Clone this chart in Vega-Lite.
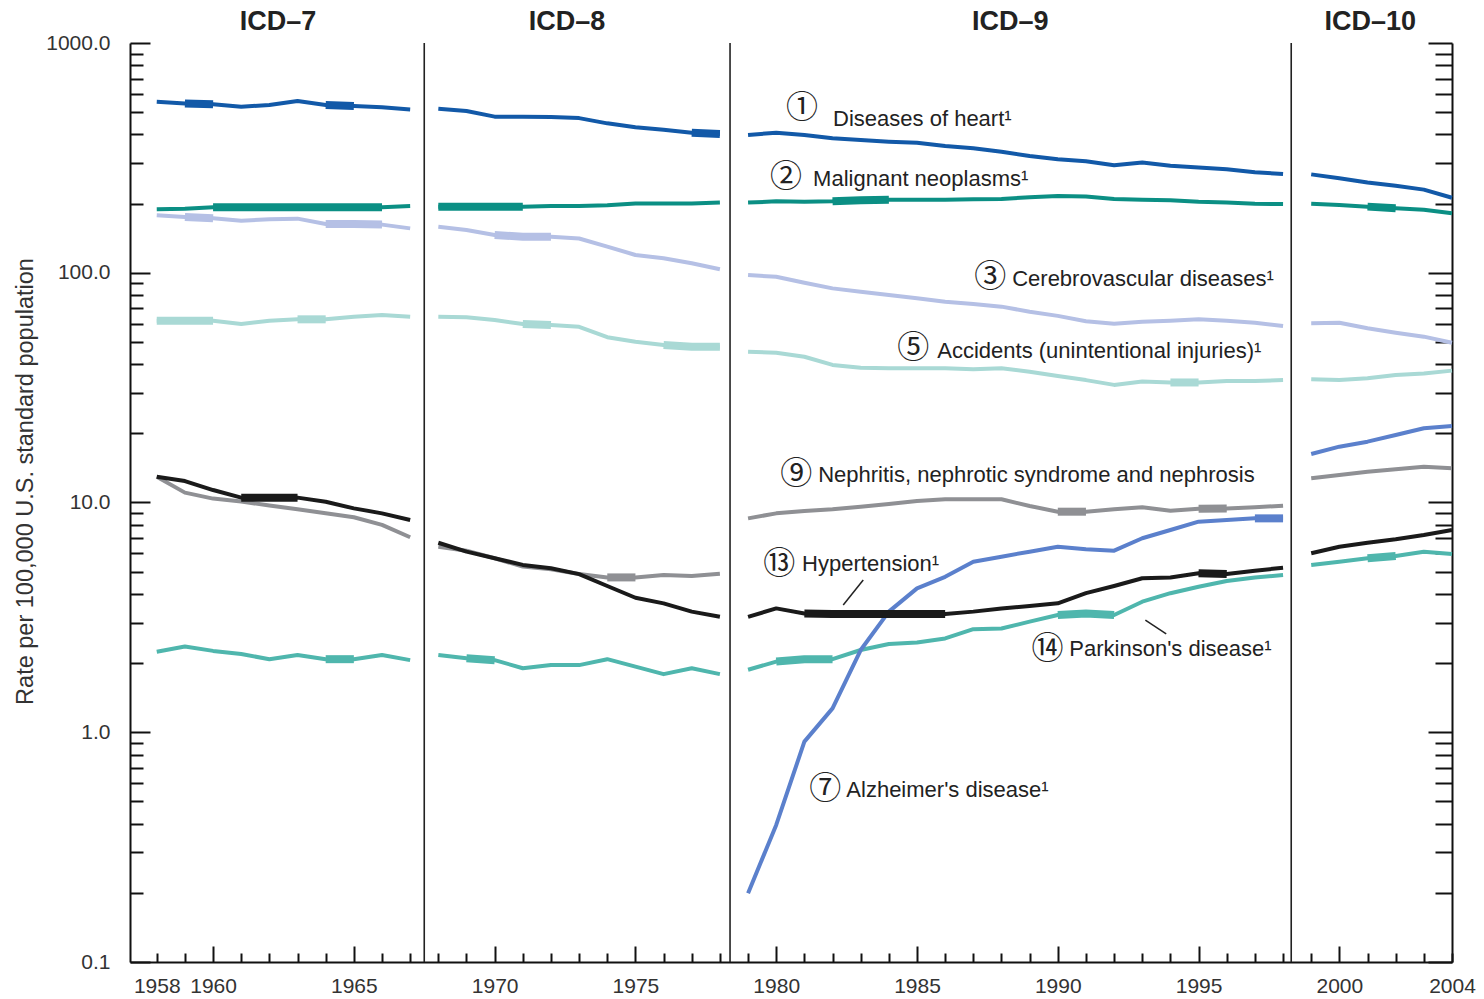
{
  "$schema": "https://vega.github.io/schema/vega-lite/v6.json",
  "autosize": {"type": "none"},
  "padding": {"left": 130, "top": 43, "right": 32, "bottom": 37},
  "width": 1322,
  "height": 919,
  "background": "white",
  "config": {"view": {"stroke": null}, "font": "Liberation Sans", "axis": {"grid": false}},
  "datasets": {
    "rates": [
      {"year": 1958, "rev": "ICD-7", "heart": 555, "cancer": 189, "stroke": 178, "accidents": 61.8, "nephritis": 12.95, "hypertension": 12.95, "parkinsons": 2.24},
      {"year": 1959, "rev": "ICD-7", "heart": 546, "cancer": 190, "stroke": 175, "accidents": 61.8, "nephritis": 11.04, "hypertension": 12.4, "parkinsons": 2.36},
      {"year": 1960, "rev": "ICD-7", "heart": 541, "cancer": 193, "stroke": 172.6, "accidents": 61.8, "nephritis": 10.4, "hypertension": 11.33, "parkinsons": 2.26},
      {"year": 1961, "rev": "ICD-7", "heart": 528, "cancer": 193, "stroke": 168.4, "accidents": 59.8, "nephritis": 10.1, "hypertension": 10.5, "parkinsons": 2.19},
      {"year": 1962, "rev": "ICD-7", "heart": 537, "cancer": 193, "stroke": 170.8, "accidents": 61.8, "nephritis": 9.7, "hypertension": 10.5, "parkinsons": 2.08},
      {"year": 1963, "rev": "ICD-7", "heart": 559, "cancer": 193, "stroke": 172, "accidents": 62.7, "nephritis": 9.35, "hypertension": 10.5, "parkinsons": 2.17},
      {"year": 1964, "rev": "ICD-7", "heart": 537, "cancer": 193, "stroke": 163, "accidents": 62.7, "nephritis": 8.98, "hypertension": 10.08, "parkinsons": 2.08},
      {"year": 1965, "rev": "ICD-7", "heart": 532, "cancer": 193, "stroke": 163, "accidents": 64.4, "nephritis": 8.63, "hypertension": 9.43, "parkinsons": 2.08},
      {"year": 1966, "rev": "ICD-7", "heart": 525, "cancer": 193, "stroke": 162, "accidents": 65.5, "nephritis": 7.99, "hypertension": 8.97, "parkinsons": 2.17},
      {"year": 1967, "rev": "ICD-7", "heart": 514, "cancer": 195, "stroke": 156, "accidents": 64.4, "nephritis": 7.06, "hypertension": 8.39, "parkinsons": 2.06},
      {"year": 1968, "rev": "ICD-8", "heart": 518, "cancer": 194, "stroke": 158.7, "accidents": 64.4, "nephritis": 6.42, "hypertension": 6.68, "parkinsons": 2.17},
      {"year": 1969, "rev": "ICD-8", "heart": 506, "cancer": 194, "stroke": 153.5, "accidents": 64, "nephritis": 6.17, "hypertension": 6.11, "parkinsons": 2.1},
      {"year": 1970, "rev": "ICD-8", "heart": 478, "cancer": 194, "stroke": 146, "accidents": 62.3, "nephritis": 5.72, "hypertension": 5.72, "parkinsons": 2.06},
      {"year": 1971, "rev": "ICD-8", "heart": 478, "cancer": 194, "stroke": 143.5, "accidents": 59.8, "nephritis": 5.26, "hypertension": 5.35, "parkinsons": 1.9},
      {"year": 1972, "rev": "ICD-8", "heart": 476, "cancer": 195, "stroke": 143.5, "accidents": 59.2, "nephritis": 5.12, "hypertension": 5.17, "parkinsons": 1.96},
      {"year": 1973, "rev": "ICD-8", "heart": 471, "cancer": 195, "stroke": 141, "accidents": 58.2, "nephritis": 4.88, "hypertension": 4.88, "parkinsons": 1.96},
      {"year": 1974, "rev": "ICD-8", "heart": 447, "cancer": 196.5, "stroke": 130, "accidents": 52.4, "nephritis": 4.72, "hypertension": 4.33, "parkinsons": 2.08},
      {"year": 1975, "rev": "ICD-8", "heart": 430, "cancer": 200, "stroke": 119.5, "accidents": 50.1, "nephritis": 4.72, "hypertension": 3.85, "parkinsons": 1.93},
      {"year": 1976, "rev": "ICD-8", "heart": 419, "cancer": 200, "stroke": 115.6, "accidents": 48.5, "nephritis": 4.83, "hypertension": 3.64, "parkinsons": 1.79},
      {"year": 1977, "rev": "ICD-8", "heart": 407, "cancer": 200, "stroke": 110, "accidents": 47.6, "nephritis": 4.79, "hypertension": 3.35, "parkinsons": 1.9},
      {"year": 1978, "rev": "ICD-8", "heart": 402, "cancer": 202, "stroke": 103.5, "accidents": 47.6, "nephritis": 4.9, "hypertension": 3.18, "parkinsons": 1.79},
      {"year": 1979, "rev": "ICD-9", "heart": 398, "cancer": 202, "stroke": 97.8, "accidents": 45.3, "nephritis": 8.53, "hypertension": 3.18, "parkinsons": 1.87, "alzheimers": 0.199},
      {"year": 1980, "rev": "ICD-9", "heart": 407, "cancer": 204.5, "stroke": 96, "accidents": 44.9, "nephritis": 8.97, "hypertension": 3.46, "parkinsons": 2.03, "alzheimers": 0.395},
      {"year": 1981, "rev": "ICD-9", "heart": 398, "cancer": 203.5, "stroke": 90.5, "accidents": 43.1, "nephritis": 9.18, "hypertension": 3.29, "parkinsons": 2.08, "alzheimers": 0.91},
      {"year": 1982, "rev": "ICD-9", "heart": 385, "cancer": 204.5, "stroke": 85.5, "accidents": 39.7, "nephritis": 9.34, "hypertension": 3.27, "parkinsons": 2.08, "alzheimers": 1.27},
      {"year": 1983, "rev": "ICD-9", "heart": 378, "cancer": 207, "stroke": 82.7, "accidents": 38.6, "nephritis": 9.59, "hypertension": 3.27, "parkinsons": 2.28, "alzheimers": 2.28},
      {"year": 1984, "rev": "ICD-9", "heart": 372, "cancer": 208, "stroke": 80, "accidents": 38.4, "nephritis": 9.85, "hypertension": 3.27, "parkinsons": 2.42, "alzheimers": 3.35},
      {"year": 1985, "rev": "ICD-9", "heart": 368, "cancer": 208, "stroke": 77.4, "accidents": 38.4, "nephritis": 10.15, "hypertension": 3.27, "parkinsons": 2.46, "alzheimers": 4.23},
      {"year": 1986, "rev": "ICD-9", "heart": 356, "cancer": 208, "stroke": 74.8, "accidents": 38.4, "nephritis": 10.33, "hypertension": 3.27, "parkinsons": 2.56, "alzheimers": 4.75},
      {"year": 1987, "rev": "ICD-9", "heart": 348, "cancer": 209, "stroke": 73.1, "accidents": 38, "nephritis": 10.33, "hypertension": 3.35, "parkinsons": 2.81, "alzheimers": 5.52},
      {"year": 1988, "rev": "ICD-9", "heart": 336, "cancer": 209.5, "stroke": 71.2, "accidents": 38.4, "nephritis": 10.33, "hypertension": 3.46, "parkinsons": 2.83, "alzheimers": 5.81},
      {"year": 1989, "rev": "ICD-9", "heart": 322, "cancer": 213, "stroke": 67.7, "accidents": 37.1, "nephritis": 9.66, "hypertension": 3.54, "parkinsons": 3.03, "alzheimers": 6.11},
      {"year": 1990, "rev": "ICD-9", "heart": 312, "cancer": 216, "stroke": 64.9, "accidents": 35.5, "nephritis": 9.12, "hypertension": 3.64, "parkinsons": 3.24, "alzheimers": 6.42},
      {"year": 1991, "rev": "ICD-9", "heart": 306, "cancer": 214.5, "stroke": 61.5, "accidents": 34.1, "nephritis": 9.12, "hypertension": 4.03, "parkinsons": 3.29, "alzheimers": 6.26},
      {"year": 1992, "rev": "ICD-9", "heart": 294, "cancer": 209.5, "stroke": 60, "accidents": 32.5, "nephritis": 9.34, "hypertension": 4.33, "parkinsons": 3.24, "alzheimers": 6.17},
      {"year": 1993, "rev": "ICD-9", "heart": 302, "cancer": 208, "stroke": 61.2, "accidents": 33.6, "nephritis": 9.53, "hypertension": 4.68, "parkinsons": 3.7, "alzheimers": 6.99},
      {"year": 1994, "rev": "ICD-9", "heart": 292, "cancer": 207, "stroke": 61.8, "accidents": 33.3, "nephritis": 9.21, "hypertension": 4.72, "parkinsons": 4.03, "alzheimers": 7.59},
      {"year": 1995, "rev": "ICD-9", "heart": 287, "cancer": 203.5, "stroke": 62.7, "accidents": 33.3, "nephritis": 9.4, "hypertension": 4.92, "parkinsons": 4.3, "alzheimers": 8.25},
      {"year": 1996, "rev": "ICD-9", "heart": 282, "cancer": 202, "stroke": 61.8, "accidents": 33.8, "nephritis": 9.42, "hypertension": 4.88, "parkinsons": 4.55, "alzheimers": 8.39},
      {"year": 1997, "rev": "ICD-9", "heart": 274, "cancer": 199.5, "stroke": 60.6, "accidents": 33.8, "nephritis": 9.53, "hypertension": 5.05, "parkinsons": 4.72, "alzheimers": 8.53},
      {"year": 1998, "rev": "ICD-9", "heart": 269, "cancer": 199, "stroke": 58.6, "accidents": 34.1, "nephritis": 9.69, "hypertension": 5.2, "parkinsons": 4.83, "alzheimers": 8.53},
      {"year": 1999, "rev": "ICD-10", "heart": 268, "cancer": 199.5, "stroke": 60.3, "accidents": 34.4, "nephritis": 12.74, "hypertension": 6.01, "parkinsons": 5.35, "alzheimers": 16.26},
      {"year": 2000, "rev": "ICD-10", "heart": 258, "cancer": 197, "stroke": 60.6, "accidents": 34.1, "nephritis": 13.17, "hypertension": 6.42, "parkinsons": 5.52, "alzheimers": 17.5},
      {"year": 2001, "rev": "ICD-10", "heart": 247, "cancer": 194, "stroke": 57.3, "accidents": 34.7, "nephritis": 13.6, "hypertension": 6.68, "parkinsons": 5.72, "alzheimers": 18.4},
      {"year": 2002, "rev": "ICD-10", "heart": 239, "cancer": 191, "stroke": 54.8, "accidents": 35.9, "nephritis": 13.95, "hypertension": 6.92, "parkinsons": 5.85, "alzheimers": 19.67},
      {"year": 2003, "rev": "ICD-10", "heart": 230, "cancer": 188, "stroke": 52.7, "accidents": 36.4, "nephritis": 14.3, "hypertension": 7.22, "parkinsons": 6.11, "alzheimers": 21.04},
      {"year": 2004, "rev": "ICD-10", "heart": 212, "cancer": 181.5, "stroke": 49.6, "accidents": 37.5, "nephritis": 14.08, "hypertension": 7.59, "parkinsons": 5.97, "alzheimers": 21.53}
    ],
    "bold": [
      {"cause": "heart", "span": "h1", "year": 1959, "rate": 546}, {"cause": "heart", "span": "h1", "year": 1960, "rate": 541},
      {"cause": "heart", "span": "h2", "year": 1964, "rate": 537}, {"cause": "heart", "span": "h2", "year": 1965, "rate": 532},
      {"cause": "heart", "span": "h3", "year": 1977, "rate": 407}, {"cause": "heart", "span": "h3", "year": 1978, "rate": 402},
      {"cause": "cancer", "span": "c1", "year": 1960, "rate": 193}, {"cause": "cancer", "span": "c1", "year": 1961, "rate": 193}, {"cause": "cancer", "span": "c1", "year": 1962, "rate": 193}, {"cause": "cancer", "span": "c1", "year": 1963, "rate": 193}, {"cause": "cancer", "span": "c1", "year": 1964, "rate": 193}, {"cause": "cancer", "span": "c1", "year": 1965, "rate": 193}, {"cause": "cancer", "span": "c1", "year": 1966, "rate": 193},
      {"cause": "cancer", "span": "c2", "year": 1968, "rate": 194}, {"cause": "cancer", "span": "c2", "year": 1969, "rate": 194}, {"cause": "cancer", "span": "c2", "year": 1970, "rate": 194}, {"cause": "cancer", "span": "c2", "year": 1971, "rate": 194},
      {"cause": "cancer", "span": "c3", "year": 1982, "rate": 204.5}, {"cause": "cancer", "span": "c3", "year": 1983, "rate": 207}, {"cause": "cancer", "span": "c3", "year": 1984, "rate": 208},
      {"cause": "cancer", "span": "c4", "year": 2001, "rate": 194}, {"cause": "cancer", "span": "c4", "year": 2002, "rate": 191},
      {"cause": "stroke", "span": "s1", "year": 1959, "rate": 175}, {"cause": "stroke", "span": "s1", "year": 1960, "rate": 172.6},
      {"cause": "stroke", "span": "s2", "year": 1964, "rate": 163}, {"cause": "stroke", "span": "s2", "year": 1965, "rate": 163}, {"cause": "stroke", "span": "s2", "year": 1966, "rate": 162},
      {"cause": "stroke", "span": "s3", "year": 1970, "rate": 146}, {"cause": "stroke", "span": "s3", "year": 1971, "rate": 143.5}, {"cause": "stroke", "span": "s3", "year": 1972, "rate": 143.5},
      {"cause": "accidents", "span": "a1", "year": 1958, "rate": 61.8}, {"cause": "accidents", "span": "a1", "year": 1959, "rate": 61.8}, {"cause": "accidents", "span": "a1", "year": 1960, "rate": 61.8},
      {"cause": "accidents", "span": "a2", "year": 1963, "rate": 62.7}, {"cause": "accidents", "span": "a2", "year": 1964, "rate": 62.7},
      {"cause": "accidents", "span": "a3", "year": 1971, "rate": 59.8}, {"cause": "accidents", "span": "a3", "year": 1972, "rate": 59.2},
      {"cause": "accidents", "span": "a4", "year": 1976, "rate": 48.5}, {"cause": "accidents", "span": "a4", "year": 1977, "rate": 47.6}, {"cause": "accidents", "span": "a4", "year": 1978, "rate": 47.6},
      {"cause": "accidents", "span": "a5", "year": 1994, "rate": 33.3}, {"cause": "accidents", "span": "a5", "year": 1995, "rate": 33.3},
      {"cause": "nephritis", "span": "n1", "year": 1974, "rate": 4.72}, {"cause": "nephritis", "span": "n1", "year": 1975, "rate": 4.72},
      {"cause": "nephritis", "span": "n2", "year": 1990, "rate": 9.12}, {"cause": "nephritis", "span": "n2", "year": 1991, "rate": 9.12},
      {"cause": "nephritis", "span": "n3", "year": 1995, "rate": 9.4}, {"cause": "nephritis", "span": "n3", "year": 1996, "rate": 9.42},
      {"cause": "hypertension", "span": "y1", "year": 1961, "rate": 10.5}, {"cause": "hypertension", "span": "y1", "year": 1962, "rate": 10.5}, {"cause": "hypertension", "span": "y1", "year": 1963, "rate": 10.5},
      {"cause": "hypertension", "span": "y2", "year": 1981, "rate": 3.29}, {"cause": "hypertension", "span": "y2", "year": 1982, "rate": 3.27}, {"cause": "hypertension", "span": "y2", "year": 1983, "rate": 3.27}, {"cause": "hypertension", "span": "y2", "year": 1984, "rate": 3.27}, {"cause": "hypertension", "span": "y2", "year": 1985, "rate": 3.27}, {"cause": "hypertension", "span": "y2", "year": 1986, "rate": 3.27},
      {"cause": "hypertension", "span": "y3", "year": 1995, "rate": 4.92}, {"cause": "hypertension", "span": "y3", "year": 1996, "rate": 4.88},
      {"cause": "parkinsons", "span": "p1", "year": 1964, "rate": 2.08}, {"cause": "parkinsons", "span": "p1", "year": 1965, "rate": 2.08},
      {"cause": "parkinsons", "span": "p2", "year": 1969, "rate": 2.1}, {"cause": "parkinsons", "span": "p2", "year": 1970, "rate": 2.06},
      {"cause": "parkinsons", "span": "p3", "year": 1980, "rate": 2.03}, {"cause": "parkinsons", "span": "p3", "year": 1981, "rate": 2.08}, {"cause": "parkinsons", "span": "p3", "year": 1982, "rate": 2.08},
      {"cause": "parkinsons", "span": "p4", "year": 1990, "rate": 3.24}, {"cause": "parkinsons", "span": "p4", "year": 1991, "rate": 3.29}, {"cause": "parkinsons", "span": "p4", "year": 1992, "rate": 3.24},
      {"cause": "parkinsons", "span": "p5", "year": 2001, "rate": 5.72}, {"cause": "parkinsons", "span": "p5", "year": 2002, "rate": 5.85},
      {"cause": "alzheimers", "span": "z1", "year": 1997, "rate": 8.53}, {"cause": "alzheimers", "span": "z1", "year": 1998, "rate": 8.53}
    ],
    "dividers": [
      {"at": 1967.5, "lo": 0.1, "hi": 1000},
      {"at": 1978.36, "lo": 0.1, "hi": 1000},
      {"at": 1998.29, "lo": 0.1, "hi": 1000}
    ],
    "headers": [
      {"label": "ICD–7", "year": 1962.31, "rate": 1234},
      {"label": "ICD–8", "year": 1972.57, "rate": 1234},
      {"label": "ICD–9", "year": 1988.31, "rate": 1234},
      {"label": "ICD–10", "year": 2001.1, "rate": 1234}
    ],
    "notes": [
      {"num": "①", "label": "Diseases of heart¹", "nx": 1980.92, "ny": 521, "tx": 1982.02, "ty": 467},
      {"num": "②", "label": "Malignant neoplasms¹", "nx": 1980.35, "ny": 261, "tx": 1981.31, "ty": 256},
      {"num": "③", "label": "Cerebrovascular diseases¹", "nx": 1987.6, "ny": 95.8, "tx": 1988.38, "ty": 93.9},
      {"num": "⑤", "label": "Accidents (unintentional injuries)¹", "nx": 1984.87, "ny": 47.0, "tx": 1985.72, "ty": 45.6},
      {"num": "⑨", "label": "Nephritis, nephrotic syndrome and nephrosis", "nx": 1980.71, "ny": 13.3, "tx": 1981.49, "ty": 13.17},
      {"num": "⑬", "label": "Hypertension¹", "nx": 1980.11, "ny": 5.4, "tx": 1980.92, "ty": 5.4},
      {"num": "⑭", "label": "Parkinson's disease¹", "nx": 1989.63, "ny": 2.304, "tx": 1990.41, "ty": 2.304},
      {"num": "⑦", "label": "Alzheimer's disease¹", "nx": 1981.74, "ny": 0.566, "tx": 1982.49, "ty": 0.5605}
    ],
    "leaders": [
      {"x1": 1983.09, "y1": 4.6, "x2": 1982.38, "y2": 3.58},
      {"x1": 1993.11, "y1": 3.08, "x2": 1993.85, "y2": 2.68}
    ]
  },
  "resolve": {"axis": {"x": "independent", "y": "independent"}},
  "layer": [
    {
      "data": {"name": "rates"},
      "transform": [
        {"fold": ["heart", "cancer", "stroke", "accidents", "nephritis", "hypertension", "parkinsons", "alzheimers"], "as": ["cause", "rate"]},
        {"filter": "isValid(datum.rate)"}
      ],
      "mark": {"type": "line", "strokeWidth": 4, "strokeCap": "butt", "strokeJoin": "round"},
      "encoding": {
        "x": {
          "field": "year", "type": "quantitative",
          "scale": {"domain": [1957.05, 2004], "nice": false, "zero": false},
          "axis": {
            "values": [1958,1959,1960,1961,1962,1963,1964,1965,1966,1967,1968,1969,1970,1971,1972,1973,1974,1975,1976,1977,1978,1979,1980,1981,1982,1983,1984,1985,1986,1987,1988,1989,1990,1991,1992,1993,1994,1995,1996,1997,1998,1999,2000,2001,2002,2003,2004],
            "labels": false,
            "tickSize": {"condition": {"test": "datum.value % 5 == 0 && datum.value >= 1960 && datum.value <= 2000", "value": -16}, "value": -9},
            "tickColor": "#111", "tickWidth": 2,
            "domainColor": "#111", "domainWidth": 2,
            "title": null
          }
        },
        "y": {
          "field": "rate", "type": "quantitative",
          "scale": {"type": "log", "domain": [0.1, 1000], "nice": false},
          "axis": {
            "values": [0.1,0.2,0.3,0.4,0.5,0.6,0.7,0.8,0.9,1,2,3,4,5,6,7,8,9,10,20,30,40,50,60,70,80,90,100,200,300,400,500,600,700,800,900,1000],
            "labelExpr": "indexof([0.1,1,10,100,1000], datum.value) >= 0 ? format(datum.value, '.1f') : ''",
            "tickSize": {"condition": {"test": "indexof([0.1,1,10,100,1000], datum.value) >= 0", "value": -20}, "value": -13},
            "tickColor": "#111", "tickWidth": 2,
            "domainColor": "#111", "domainWidth": 2,
            "labelFontSize": 21, "labelColor": "#333", "labelPadding": 40,
            "labelFlush": false, "labelOverlap": false, "labelBaseline": "middle",
            "title": "Rate per 100,000 U.S. standard population",
            "titleFontSize": 23.5, "titleFontWeight": "normal", "titleColor": "#333",
            "titleX": -105, "titleY": 438, "titleAngle": -90, "titleAlign": "center", "titleBaseline": "middle"
          }
        },
        "color": {
          "field": "cause", "type": "nominal", "legend": null,
          "scale": {
            "domain": ["heart", "cancer", "stroke", "accidents", "nephritis", "hypertension", "parkinsons", "alzheimers"],
            "range": ["#1259a8", "#0b8f84", "#b5c0e5", "#a9d9d5", "#8f9094", "#1a1a1a", "#4fb6ad", "#5b80cc"]
          }
        },
        "detail": {"field": "rev"}
      }
    },
    {
      "data": {"name": "bold"},
      "mark": {"type": "line", "strokeWidth": 8, "strokeCap": "butt", "strokeJoin": "round"},
      "encoding": {
        "x": {"field": "year", "type": "quantitative", "axis": null},
        "y": {"field": "rate", "type": "quantitative", "axis": null},
        "color": {"field": "cause", "type": "nominal", "legend": null},
        "detail": {"field": "span"}
      }
    },
    {
      "data": {"name": "dividers"},
      "mark": {"type": "rule", "color": "#222", "strokeWidth": 1.6},
      "encoding": {
        "x": {
          "field": "at", "type": "quantitative",
          "axis": {
            "orient": "bottom",
            "values": [1958, 1960, 1965, 1970, 1975, 1980, 1985, 1990, 1995, 2000, 2004],
            "format": "d",
            "ticks": false, "domain": false,
            "labelFontSize": 21, "labelColor": "#333", "labelPadding": 13,
            "labelFlush": false, "labelOverlap": false,
            "title": null
          }
        },
        "y": {
          "field": "lo", "type": "quantitative",
          "axis": {
            "orient": "right",
            "values": [0.1,0.2,0.3,0.4,0.5,0.6,0.7,0.8,0.9,1,2,3,4,5,6,7,8,9,10,20,30,40,50,60,70,80,90,100,200,300,400,500,600,700,800,900,1000],
            "labels": false,
            "tickSize": {"condition": {"test": "indexof([0.1,1,10,100,1000], datum.value) >= 0", "value": -24}, "value": -17},
            "tickColor": "#111", "tickWidth": 2,
            "domainColor": "#111", "domainWidth": 2,
            "title": null
          }
        },
        "y2": {"field": "hi"}
      }
    },
    {
      "data": {"name": "headers"},
      "mark": {"type": "text", "fontSize": 27, "fontWeight": "bold", "color": "#222", "align": "center", "baseline": "middle"},
      "encoding": {
        "x": {"field": "year", "type": "quantitative", "axis": null},
        "y": {"field": "rate", "type": "quantitative", "axis": null},
        "text": {"field": "label"}
      }
    },
    {
      "data": {"name": "leaders"},
      "mark": {"type": "rule", "color": "#222", "strokeWidth": 1.5},
      "encoding": {
        "x": {"field": "x1", "type": "quantitative", "axis": null},
        "y": {"field": "y1", "type": "quantitative", "axis": null},
        "x2": {"field": "x2"},
        "y2": {"field": "y2"}
      }
    },
    {
      "data": {"name": "notes"},
      "mark": {"type": "text", "font": "Noto Sans CJK JP", "fontSize": 32, "color": "#222", "align": "center", "baseline": "middle"},
      "encoding": {
        "x": {"field": "nx", "type": "quantitative", "axis": null},
        "y": {"field": "ny", "type": "quantitative", "axis": null},
        "text": {"field": "num"}
      }
    },
    {
      "data": {"name": "notes"},
      "mark": {"type": "text", "fontSize": 22, "color": "#222", "align": "left", "baseline": "middle"},
      "encoding": {
        "x": {"field": "tx", "type": "quantitative", "axis": null},
        "y": {"field": "ty", "type": "quantitative", "axis": null},
        "text": {"field": "label"}
      }
    }
  ]
}
